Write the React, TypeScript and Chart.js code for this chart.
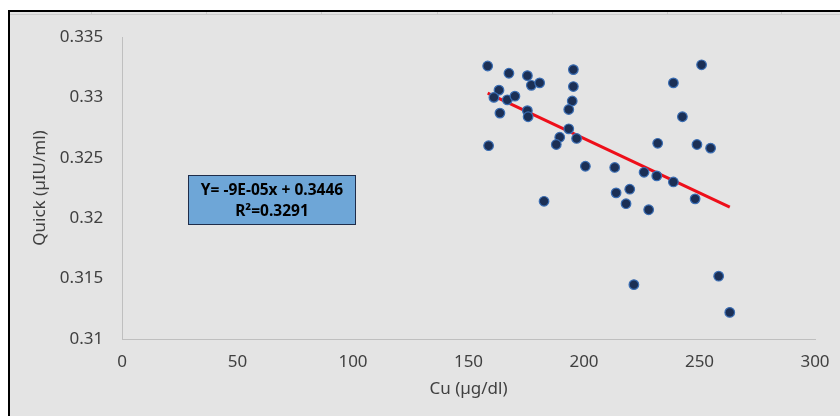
import { useEffect, useRef } from 'react';
import { Chart, registerables } from 'chart.js';

Chart.register(...registerables);

// Serum copper (µg/dl) against Quick index (µIU/ml)
const cuValues = [
  158.3, 167.5, 175.5, 177.2, 180.8, 195.4, 195.4, 194.9, 193.4, 163.2,
  161.0, 166.8, 170.1, 163.6, 175.5, 175.8, 158.7, 193.4, 189.5, 188.0,
  196.8, 200.6, 182.7, 250.9, 238.7, 242.6, 231.9, 248.9, 254.8, 213.3,
  226.0, 231.5, 238.7, 213.9, 219.8, 218.2, 228.0, 248.1, 221.6, 258.3,
  263.1,
];
const quickValues = [
  0.3326, 0.332, 0.3318, 0.331, 0.3312, 0.3323, 0.3309, 0.3297, 0.329, 0.3306,
  0.33, 0.3298, 0.3301, 0.3287, 0.3289, 0.3284, 0.326, 0.3274, 0.3267, 0.3261,
  0.3266, 0.3243, 0.3214, 0.3327, 0.3312, 0.3284, 0.3262, 0.3261, 0.3258, 0.3242,
  0.3238, 0.3235, 0.323, 0.3221, 0.3224, 0.3212, 0.3207, 0.3216, 0.3145, 0.3152,
  0.3122,
];

const xTicks = [0, 50, 100, 150, 200, 250, 300];
const yTicks = [0.31, 0.315, 0.32, 0.325, 0.33, 0.335];

// Linear trendline y = slope * x + intercept
const trendSlope = -0.00009;
const trendIntercept = 0.3446;
const rSquared = 0.3291;
const equationLines = ['Y= -9E-05x + ' + trendIntercept, 'R²=' + rSquared];

const xTitle = 'Cu (µg/dl)';
const yTitle = 'Quick (µIU/ml)';

const FONT = "'Noto Sans', 'Open Sans', sans-serif";
const TEXT = '#404040';
const AXIS = '#bfbfbf';

const framePlugin = {
  id: 'frame',
  beforeDraw(chart: Chart) {
    const { ctx, width, height } = chart;
    ctx.save();
    ctx.fillStyle = '#ffffff';
    ctx.fillRect(0, 0, width, height);
    ctx.fillStyle = '#e4e4e4';
    ctx.fillRect(10, 12, width - 10, height - 12);
    // sheet cell edge along the top
    ctx.strokeStyle = '#cdcdcd';
    ctx.lineWidth = 1;
    ctx.beginPath();
    ctx.moveTo(10, 14.5);
    ctx.lineTo(width, 14.5);
    for (const cx of [91, 206, 321, 437, 552, 667, 781]) {
      ctx.moveTo(cx + 0.5, 12);
      ctx.lineTo(cx + 0.5, 15);
    }
    ctx.stroke();
    // dark frame edges
    ctx.fillStyle = '#000000';
    ctx.fillRect(8, 10, width - 8, 2);
    ctx.fillRect(8, 10, 2, height - 10);
    ctx.restore();
  },
};

const equationPlugin = {
  id: 'equationBox',
  afterDraw(chart: Chart) {
    const { ctx } = chart;
    const left = 188;
    const top = 175;
    const w = 168;
    const h = 50;
    ctx.save();
    ctx.fillStyle = '#6ea6d7';
    ctx.fillRect(left, top, w, h);
    ctx.strokeStyle = '#1f2d4a';
    ctx.lineWidth = 1;
    ctx.strokeRect(left + 0.5, top + 0.5, w - 1, h - 1);
    ctx.fillStyle = '#000000';
    ctx.font = `bold 15.5px ${FONT}`;
    ctx.textAlign = 'center';
    ctx.textBaseline = 'middle';
    ctx.fillText(equationLines[0], left + w / 2, top + 16);
    ctx.fillText(equationLines[1], left + w / 2, top + 37);
    ctx.restore();
  },
};

export default function App() {
  const canvasRef = useRef<HTMLCanvasElement | null>(null);

  useEffect(() => {
    const canvas = canvasRef.current;
    if (!canvas) return;

    const points = cuValues.map((x, i) => ({ x, y: quickValues[i] }));
    const xMin = Math.min(...cuValues);
    const xMax = Math.max(...cuValues);
    const trend = [xMin, xMax].map((x) => ({ x, y: trendSlope * x + trendIntercept }));

    const chart = new Chart(canvas, {
      type: 'scatter',
      data: {
        datasets: [
          {
            label: 'Quick',
            data: points,
            order: 0,
            pointRadius: 4.8,
            pointBackgroundColor: '#1b2f55',
            pointBorderColor: '#3a6db3',
            pointBorderWidth: 1.2,
          },
          {
            type: 'line',
            label: 'Linear',
            data: trend,
            order: 1,
            borderColor: '#ee0f1a',
            borderWidth: 3,
            pointRadius: 0,
            fill: false,
          },
        ],
      },
      options: {
        animation: false,
        responsive: false,
        maintainAspectRatio: false,
        devicePixelRatio: 1,
        layout: { padding: { left: 0, top: 37, right: 25, bottom: 0 } },
        plugins: {
          legend: { display: false },
          tooltip: { enabled: false },
        },
        scales: {
          x: {
            type: 'linear',
            min: 0,
            max: 300,
            afterBuildTicks: (s: any) => {
              s.ticks = xTicks.map((value) => ({ value }));
            },
            afterFit: (s: any) => {
              s.height = 77;
              s.paddingLeft = 0;
              s.paddingRight = 0;
            },
            grid: { display: false, drawTicks: false },
            border: { display: true, color: AXIS, width: 1 },
            ticks: {
              padding: 12.8,
              color: TEXT,
              font: { family: FONT, size: 17 },
              maxRotation: 0,
            },
            title: {
              display: true,
              text: xTitle,
              color: TEXT,
              font: { family: FONT, size: 17 },
              padding: { top: 0, bottom: 16.8 },
            },
          },
          y: {
            type: 'linear',
            min: 0.31,
            max: 0.335,
            afterBuildTicks: (s: any) => {
              s.ticks = yTicks.map((value) => ({ value }));
            },
            afterFit: (s: any) => {
              s.width = 122;
              s.paddingTop = 0;
              s.paddingBottom = 0;
            },
            grid: { display: false, drawTicks: false },
            border: { display: true, color: AXIS, width: 1 },
            ticks: {
              padding: 18.7,
              color: TEXT,
              font: { family: FONT, size: 17 },
              callback: (v: any) => String(Number(Number(v).toFixed(3))),
            },
            title: {
              display: true,
              text: yTitle,
              color: TEXT,
              font: { family: FONT, size: 17 },
              padding: { top: 29.8, bottom: 0 },
            },
          },
        },
      },
      plugins: [framePlugin, equationPlugin],
    });

    return () => chart.destroy();
  }, []);

  return (
    <div style={{ position: 'fixed', left: 0, top: 0, width: 840, height: 416, background: '#ffffff' }}>
      <canvas ref={canvasRef} width={840} height={416} style={{ display: 'block', width: 840, height: 416 }} />
    </div>
  );
}
